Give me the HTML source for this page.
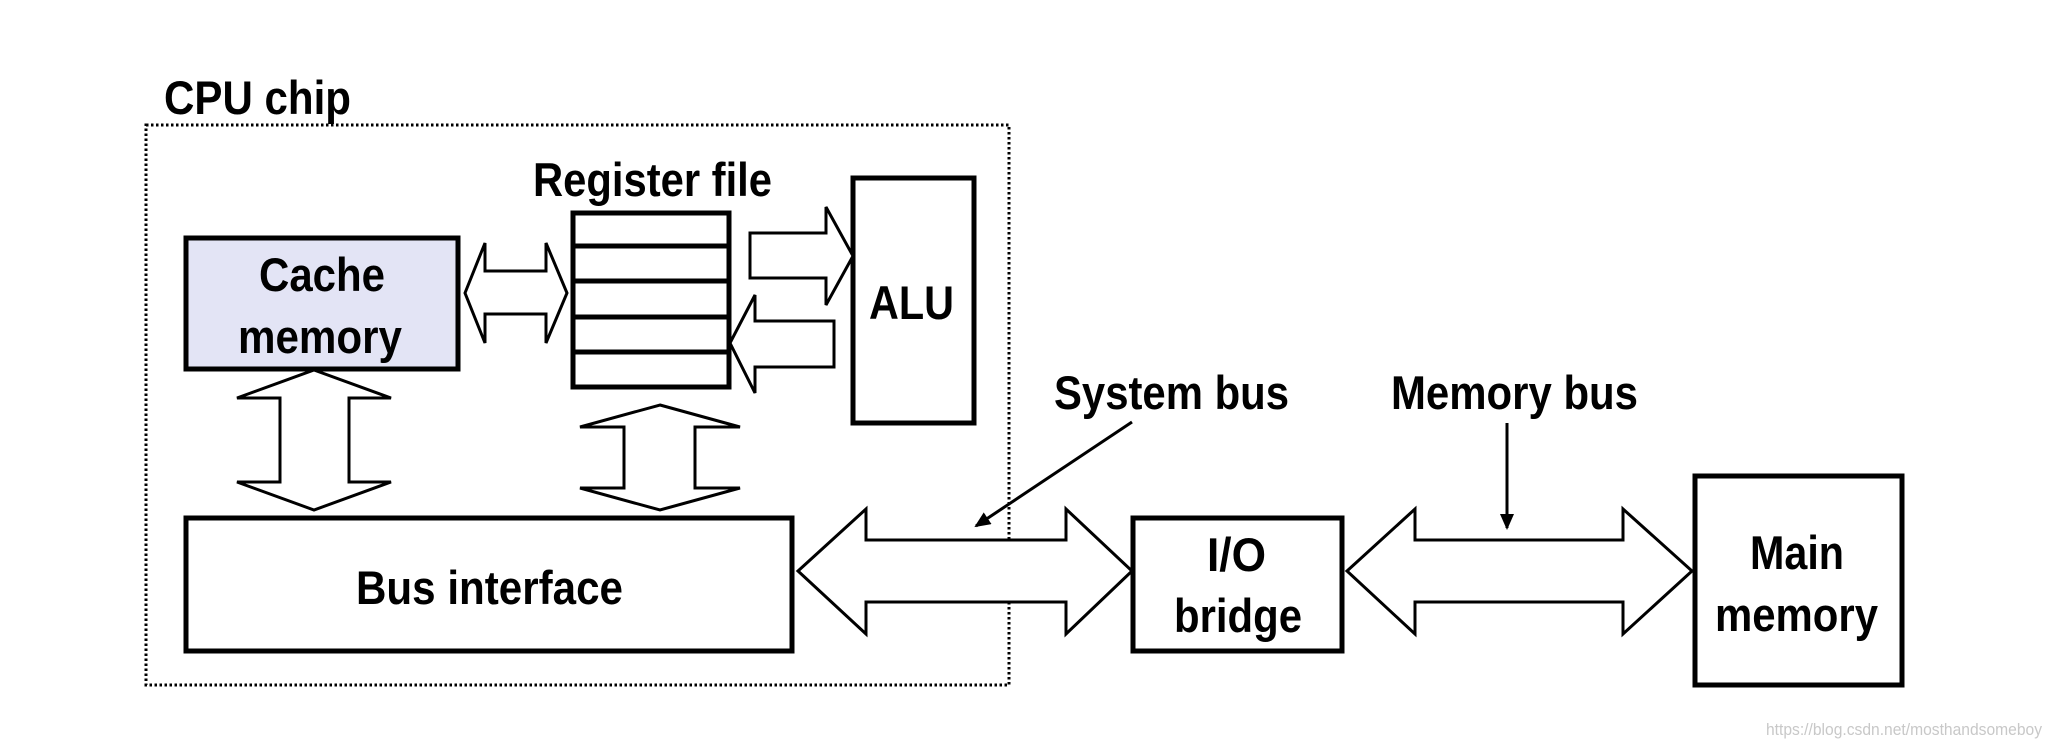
<!DOCTYPE html>
<html><head><meta charset="utf-8"><style>html,body{margin:0;padding:0;background:#fff}svg{display:block}</style></head>
<body>
<svg width="2053" height="747" viewBox="0 0 2053 747" xmlns="http://www.w3.org/2000/svg">
<defs><marker id="ah" markerWidth="16" markerHeight="16" refX="14" refY="7" orient="auto" markerUnits="userSpaceOnUse"><path d="M0,0 L16,7 L0,14 z" fill="#000"/></marker></defs>
<g font-family="'Liberation Sans', Arial, sans-serif" font-weight="bold" font-size="47" fill="#000">
<text x="164" y="114" textLength="187" lengthAdjust="spacingAndGlyphs">CPU chip</text>
<text x="533" y="196" textLength="239" lengthAdjust="spacingAndGlyphs">Register file</text>
</g>
<rect x="146" y="125" width="863" height="560" fill="none" stroke="#000" stroke-width="3" stroke-dasharray="2.5,2.5"/>
<g stroke="#000" stroke-width="5" fill="none">
<rect x="186" y="238" width="272" height="131" fill="#e3e4f5"/>
<rect x="573" y="213" width="156" height="174"/>
<line x1="573" y1="246" x2="729" y2="246"/><line x1="573" y1="281" x2="729" y2="281"/><line x1="573" y1="317" x2="729" y2="317"/><line x1="573" y1="352" x2="729" y2="352"/>
<rect x="853" y="178" width="121" height="245"/>
<rect x="186" y="518" width="606" height="133"/>
<rect x="1133" y="518" width="209" height="133"/>
<rect x="1695" y="476" width="207" height="209"/>
</g>
<g stroke="#000" stroke-width="3" fill="#fff" stroke-linejoin="miter">
<path d="M465,293 L485,243 L485,271 L546,271 L546,243 L567,293 L546,343 L546,314 L485,314 L485,343 Z"/>
<path d="M750,233 L826,233 L826,207 L853,256 L826,305 L826,278 L750,278 Z"/>
<path d="M834,321 L755,321 L755,295 L730,343 L755,393 L755,367 L834,367 Z"/>
<path d="M314,370 L391,398 L349,398 L349,482 L391,482 L314,510 L237,482 L280,482 L280,398 L237,398 Z"/>
<path d="M660,405 L740,427 L695,427 L695,488 L740,488 L660,510 L580,488 L624,488 L624,427 L580,427 Z"/>
<path d="M798,571 L866,509 L866,540 L1066,540 L1066,509 L1132,571 L1066,634 L1066,602 L866,602 L866,634 Z"/>
<path d="M1347,571 L1415,509 L1415,540 L1623,540 L1623,509 L1692,571 L1623,634 L1623,602 L1415,602 L1415,634 Z"/>
</g>
<g stroke="#000" stroke-width="3">
<line x1="1132" y1="422" x2="976" y2="526" marker-end="url(#ah)"/>
<line x1="1507" y1="423" x2="1507" y2="528" marker-end="url(#ah)"/>
</g>
<g font-family="'Liberation Sans', Arial, sans-serif" font-weight="bold" font-size="47" fill="#000">
<text x="259" y="291" textLength="126" lengthAdjust="spacingAndGlyphs">Cache</text>
<text x="238" y="353" textLength="164" lengthAdjust="spacingAndGlyphs">memory</text>
<text x="869" y="319" textLength="85" lengthAdjust="spacingAndGlyphs">ALU</text>
<text x="356" y="604" textLength="267" lengthAdjust="spacingAndGlyphs">Bus interface</text>
<text x="1054" y="409" textLength="235" lengthAdjust="spacingAndGlyphs">System bus</text>
<text x="1391" y="409" textLength="247" lengthAdjust="spacingAndGlyphs">Memory bus</text>
<text x="1207" y="571" textLength="59" lengthAdjust="spacingAndGlyphs">I/O</text>
<text x="1174" y="632" textLength="128" lengthAdjust="spacingAndGlyphs">bridge</text>
<text x="1750" y="569" textLength="94" lengthAdjust="spacingAndGlyphs">Main</text>
<text x="1715" y="631" textLength="163" lengthAdjust="spacingAndGlyphs">memory</text>
</g>
<text x="1766" y="735" font-family="'Liberation Sans', Arial, sans-serif" font-size="17" fill="#c8c8c8" textLength="276" lengthAdjust="spacingAndGlyphs">https://blog.csdn.net/mosthandsomeboy</text>
</svg>
</body></html>
